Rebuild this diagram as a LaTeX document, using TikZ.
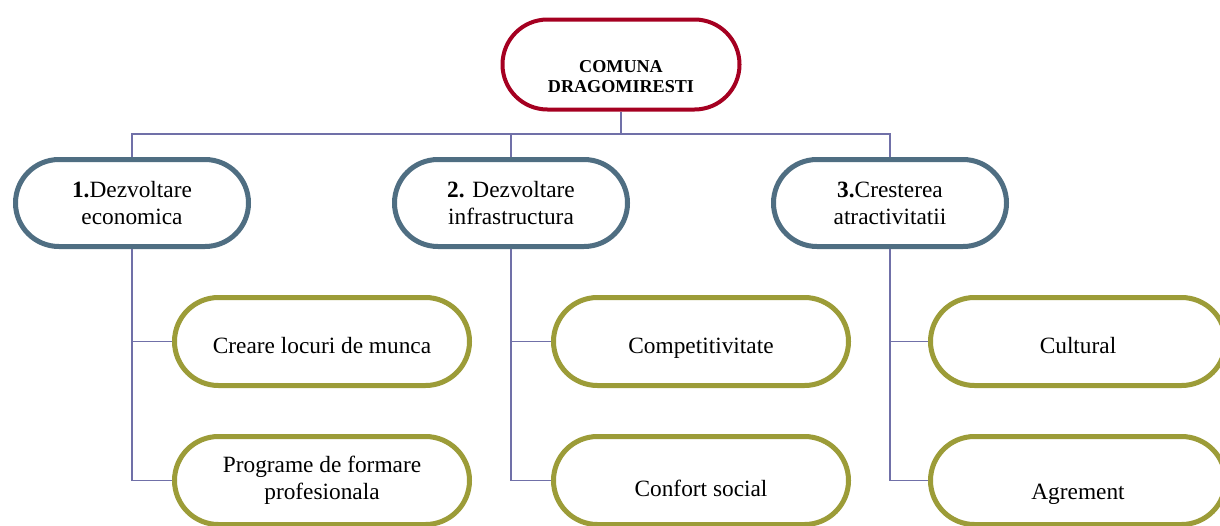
\documentclass[tikz,border=0pt]{standalone}
\usepackage{fontspec}
\setmainfont{Liberation Serif}
\definecolor{rootc}{HTML}{A50021}
\definecolor{lonec}{HTML}{4F6E82}
\definecolor{ltwoc}{HTML}{9C9C38}
\definecolor{connc}{HTML}{7070A8}
\tikzset{
  rootbox/.style={draw=rootc, line width=3pt, fill=white, rounded corners=33.7pt,
    minimum width=177.75pt, minimum height=67.5pt, inner sep=0pt, align=center,
    font=\fontsize{13.6}{15}\selectfont\bfseries},
  onebox/.style={draw=lonec, line width=3.75pt, fill=white, rounded corners=32.6pt,
    minimum width=174.75pt, minimum height=65.25pt, inner sep=0pt, align=center,
    font=\fontsize{17.5}{20.25}\selectfont},
  twobox/.style={draw=ltwoc, line width=3.75pt, fill=white, rounded corners=33pt,
    minimum width=221.25pt, minimum height=66pt, inner sep=0pt, align=center,
    font=\fontsize{17.5}{20.25}\selectfont},
  oneline/.style={text height=17.25pt, text depth=0pt},
  conn/.style={draw=connc, line width=1.1pt}
}
\begin{document}
\begin{tikzpicture}[x=0.75pt,y=-0.75pt]
\useasboundingbox (0,0) rectangle (1220,525);
\fill[white] (0,0) rectangle (1220,525);
\coordinate (bus) at (621,134);
\coordinate (busl) at (132,134);
\coordinate (busm) at (511,134);
\coordinate (busr) at (890,134);
% nodes
\node[rootbox] (root) at (621,64.5) {\strut\\[2.25pt]COMUNA\\DRAGOMIRESTI};
\node[onebox] (a) at (132,203) {\textbf{1.}Dezvoltare\\economica};
\node[onebox] (b) at (511,203) {\textbf{2.} Dezvoltare\\infrastructura};
\node[onebox] (c) at (890,203) {\textbf{3.}Cresterea\\atractivitatii};
\node[twobox,oneline] (a1) at (322,341.5) {Creare locuri de munca};
\node[twobox] (a2) at (322,480.5) {Programe de formare\\profesionala};
\node[twobox,oneline] (b1) at (701,341.5) {Competitivitate};
\node[twobox] (b2) at (701,480.5) {\strut\\[-9.75pt]Confort social};
\node[twobox,oneline] (c1) at (1078,341.5) {Cultural};
\node[twobox] (c2) at (1078,480.5) {\strut\\[-2pt]Agrement};
% connectors
\draw[conn] (root.south) -- (bus);
\draw[conn] (a.north) -- (busl) -- (busr) -- (c.north);
\draw[conn] (busm) -- (b.north);
\draw[conn] (a.south) |- (a1.west);
\draw[conn] (a.south) |- (a2.west);
\draw[conn] (b.south) |- (b1.west);
\draw[conn] (b.south) |- (b2.west);
\draw[conn] (c.south) |- (c1.west);
\draw[conn] (c.south) |- (c2.west);
\end{tikzpicture}
\end{document}
